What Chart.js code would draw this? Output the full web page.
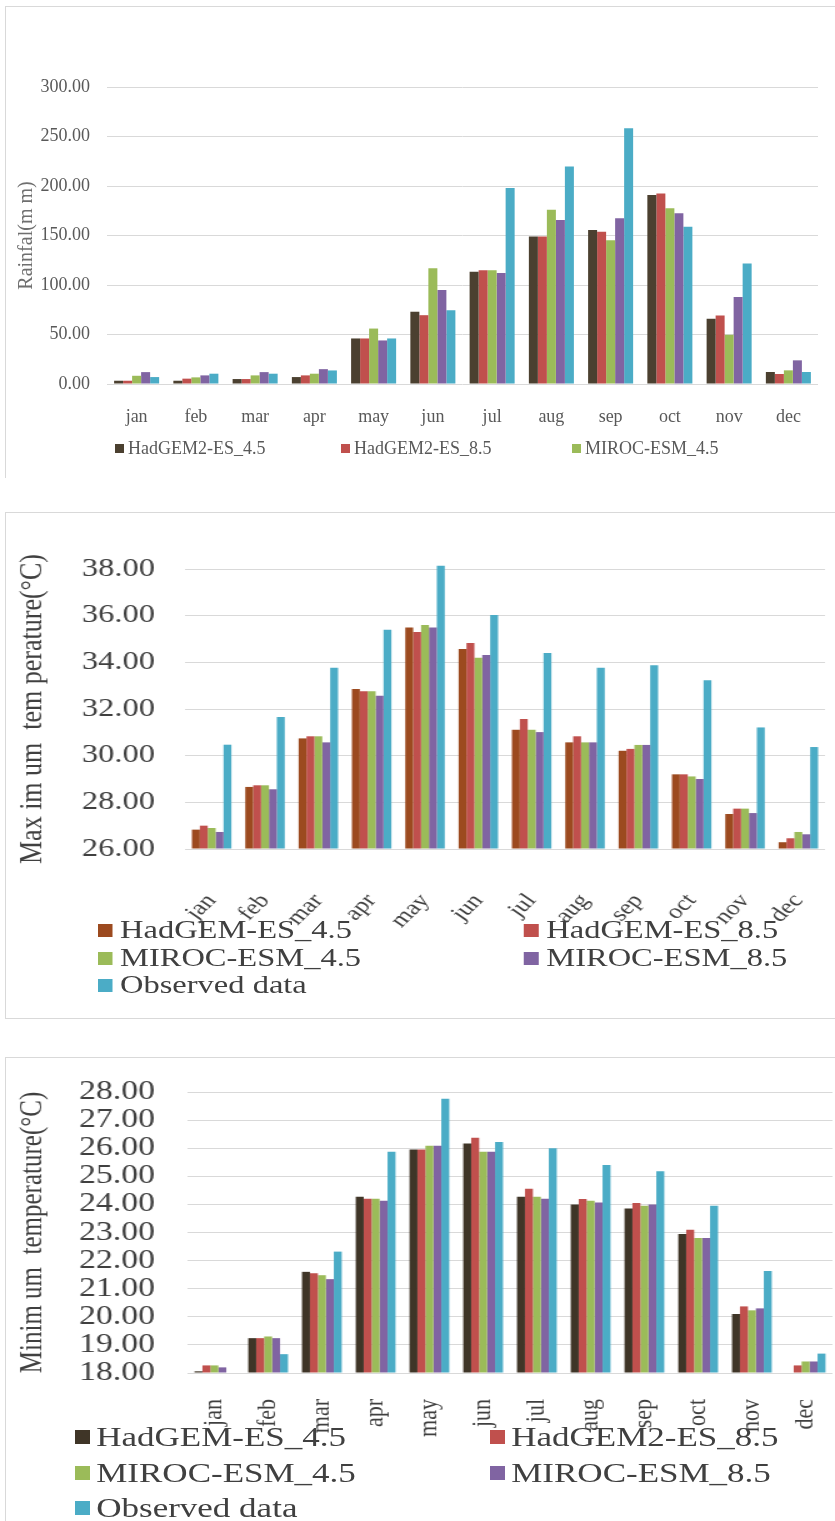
<!DOCTYPE html>
<html>
<head>
<meta charset="utf-8">
<script src="https://cdn.jsdelivr.net/npm/chart.js@4.4.1/dist/chart.umd.min.js"></script>
<style>
  html, body { margin: 0; padding: 0; background: #fff; }
  body { width: 835px; height: 1521px; position: relative; overflow: hidden;
         font-family: 'Liberation Serif', 'Times New Roman', serif; }
  .panel { position: absolute; border: 1.5px solid #d9d9d9; box-sizing: border-box; }
  .wrap { position: absolute; left: 0; }
  .wrap canvas { position: absolute; left: 0; top: 0; }
  .stretch { transform: scaleX(1.25); transform-origin: 0 0; }
  .leg { position: absolute; display: flex; align-items: center; white-space: nowrap; }
  .leg i { display: inline-block; flex: none; }
</style>
</head>
<body>
<div class="panel" style="left:5px;top:6px;width:840px;height:472px;border-right:none;border-bottom:none;"></div>
<div class="panel" style="left:5px;top:512px;width:840px;height:507px;border-right:none;"></div>
<div class="panel" style="left:5px;top:1057px;width:840px;height:480px;border-right:none;border-bottom:none;"></div>

<div class="wrap" id="w1" style="top:0;width:835px;height:480px;">
  <canvas id="rain" width="835" height="480"></canvas>
</div>
<div class="wrap stretch" id="w2" style="top:500px;width:668px;height:520px;">
  <canvas id="tmax" width="668" height="520"></canvas>
</div>
<div class="wrap stretch" id="w3" style="top:1030px;width:668px;height:491px;">
  <canvas id="tmin" width="668" height="491"></canvas>
</div>

<script>
// ─── Data ─────────────────────────────────────────────────────────
const months = ['jan', 'feb', 'mar', 'apr', 'may', 'jun', 'jul', 'aug', 'sep', 'oct', 'nov', 'dec'];

// Rainfall (mm)
const rainTicks = [0, 50, 100, 150, 200, 250, 300];
const rainHad45   = [3.3, 3.3, 5.0, 7.0, 46.0, 73.0, 113.5, 149.0, 155.6, 190.9, 65.9, 12.1];
const rainHad85   = [3.3, 5.4, 5.0, 8.7, 46.0, 69.5, 115.0, 149.0, 153.9, 192.5, 69.2, 10.1];
const rainMiroc45 = [8.3, 6.7, 8.7, 10.4, 56.0, 117.0, 115.0, 176.0, 145.2, 177.4, 49.7, 13.8];
const rainMiroc85 = [12.0, 8.7, 12.0, 15.0, 44.0, 95.0, 112.0, 165.7, 167.3, 172.4, 88.0, 23.9];
const rainObs     = [7.0, 10.4, 10.4, 13.7, 46.0, 74.5, 198.0, 219.8, 258.4, 158.9, 121.6, 12.1];
const rainNames   = ['HadGEM2-ES_4.5', 'HadGEM2-ES_8.5', 'MIROC-ESM_4.5', 'MIROC-ESM_8.5', 'Observed data'];

// Maximum temperature (°C)
const tmaxTicks = [26, 28, 30, 32, 34, 36, 38];
const tmaxHad45   = [26.83, 28.66, 30.74, 32.86, 35.49, 34.57, 31.11, 30.57, 30.21, 29.20, 27.50, 26.29];
const tmaxHad85   = [27.00, 28.73, 30.83, 32.76, 35.30, 34.83, 31.57, 30.83, 30.29, 29.20, 27.73, 26.46];
const tmaxMiroc45 = [26.90, 28.73, 30.83, 32.76, 35.60, 34.20, 31.11, 30.57, 30.46, 29.11, 27.73, 26.73];
const tmaxMiroc85 = [26.73, 28.56, 30.57, 32.57, 35.49, 34.31, 31.01, 30.57, 30.46, 29.00, 27.54, 26.63];
const tmaxObs     = [30.47, 31.66, 33.77, 35.40, 38.14, 36.03, 34.40, 33.77, 33.87, 33.23, 31.21, 30.37];
const tmaxNames   = ['HadGEM-ES_4.5', 'HadGEM-ES_8.5', 'MIROC-ESM_4.5', 'MIROC-ESM_8.5', 'Observed data'];

// Minimum temperature (°C)
const tminTicks = [18, 19, 20, 21, 22, 23, 24, 25, 26, 27, 28];
const tminHad45   = [18.06, 19.24, 21.60, 24.27, 25.95, 26.17, 24.27, 24.00, 23.85, 22.95, 20.10, 17.90];
const tminHad85   = [18.27, 19.24, 21.55, 24.20, 25.95, 26.37, 24.56, 24.19, 24.05, 23.10, 20.37, 18.27];
const tminMiroc45 = [18.27, 19.30, 21.48, 24.20, 26.09, 25.87, 24.27, 24.13, 23.95, 22.80, 20.23, 18.41];
const tminMiroc85 = [18.20, 19.24, 21.34, 24.13, 26.09, 25.87, 24.20, 24.07, 24.00, 22.80, 20.30, 18.41];
const tminObs     = [17.80, 18.67, 22.32, 25.87, 27.76, 26.22, 26.00, 25.40, 25.18, 23.95, 21.63, 18.69];
const tminNames   = ['HadGEM-ES_4.5', 'HadGEM2-ES_8.5', 'MIROC-ESM_4.5', 'MIROC-ESM_8.5', 'Observed data'];

// ─── Colours ──────────────────────────────────────────────────────
const rainColors = ['#4b4030', '#c0504d', '#9bbb59', '#8064a2', '#4bacc6'];
const tmaxColors = ['#9c4a1f', '#c0504d', '#9bbb59', '#8064a2', '#4bacc6'];
const tminColors = ['#3f3527', '#c0504d', '#9bbb59', '#8064a2', '#4bacc6'];

const SERIF = "'Liberation Serif', 'Times New Roman', serif";

// ─── Chart builder ────────────────────────────────────────────────
function makeChart(id, c) {
    const step = c.ticks[1] - c.ticks[0];
    return new Chart(document.getElementById(id), {
        type: 'bar',
        data: {
            labels: months,
            datasets: c.series.map((d, i) => ({
                label: c.names[i],
                data: d,
                backgroundColor: c.colors[i],
                borderWidth: 0,
                barPercentage: 1,
                categoryPercentage: c.catPct,
                base: c.ticks[0],          // bars rise from the axis minimum, not from 0
                clip: c.clip,
            })),
        },
        options: {
            responsive: false,
            animation: false,
            layout: { padding: c.padding },
            plugins: { legend: { display: false }, tooltip: { enabled: false } },
            scales: {
                x: {
                    grid: { display: false, drawTicks: false },
                    border: { display: false },
                    ticks: {
                        color: c.textColor,
                        font: { family: SERIF, size: c.xFont },
                        padding: c.xPad,
                        minRotation: c.rot,
                        maxRotation: c.rot,
                        autoSkip: false,
                    },
                    // rotated labels would otherwise push the plot in from the sides
                    afterFit: (s) => { s.height = c.xHeight; s.paddingLeft = 0; s.paddingRight = 0; },
                },
                y: {
                    min: c.ticks[0],
                    max: c.ticks[c.ticks.length - 1],
                    grid: { color: '#d9d9d9', lineWidth: 1, drawTicks: false },
                    border: { display: false },
                    ticks: {
                        stepSize: step,
                        autoSkip: false,
                        color: c.textColor,
                        font: { family: SERIF, size: c.yFont },
                        padding: c.yPad,
                        callback: (v) => v.toFixed(2),
                    },
                    title: {
                        display: true,
                        text: c.title,
                        color: c.titleColor,
                        font: { family: SERIF, size: c.titleFont },
                        padding: { top: c.titlePad, bottom: 0 },
                    },
                    afterFit: (s) => { s.width = c.yWidth; },
                },
            },
        },
    });
}

// ─── HTML legend ──────────────────────────────────────────────────
function addLegend(parentId, names, colors, spots, st) {
    const parent = document.getElementById(parentId);
    spots.forEach((p, i) => {
        const d = document.createElement('div');
        d.className = 'leg';
        d.style.left = p[0] + 'px';
        d.style.top = (p[1] - st.lh / 2) + 'px';
        d.style.height = st.lh + 'px';
        d.style.fontSize = st.font + 'px';
        d.style.color = st.color;
        d.innerHTML = '<i style="width:' + st.bw + 'px;height:' + st.bh + 'px;background:' + colors[i] +
            ';margin-right:' + st.gap + 'px"></i><span>' + names[i] + '</span>';
        parent.appendChild(d);
    });
}

makeChart('rain', {
    series: [rainHad45, rainHad85, rainMiroc45, rainMiroc85, rainObs],
    names: rainNames, colors: rainColors, ticks: rainTicks,
    catPct: 0.76, clip: undefined,
    padding: { top: 87, right: 17, left: 0, bottom: 0 },
    xHeight: 96, yWidth: 107,
    xFont: 18, xPad: 22, rot: 0,
    yFont: 18, yPad: 17,
    textColor: '#595959', titleColor: '#6f6f6f',
    title: 'Rainfal(m m)', titleFont: 20, titlePad: 15,
});
// only the first legend row is visible in the cropped panel
addLegend('w1', rainNames.slice(0, 3), rainColors, [[115, 448], [341, 448], [572, 448]],
    { font: 18, lh: 20, bw: 9, bh: 9, gap: 4, color: '#595959' });

makeChart('tmax', {
    series: [tmaxHad45, tmaxHad85, tmaxMiroc45, tmaxMiroc85, tmaxObs],
    names: tmaxNames, colors: tmaxColors, ticks: tmaxTicks,
    catPct: 0.74, clip: false,
    padding: { top: 69, right: 8, left: 0, bottom: 0 },
    xHeight: 171, yWidth: 148,
    xFont: 21, xPad: 40, rot: 50,
    yFont: 26, yPad: 24,
    textColor: '#404040', titleColor: '#404040',
    title: 'Max im um  tem perature(°C)', titleFont: 26, titlePad: 11,
});
addLegend('w2', tmaxNames, tmaxColors, [[78, 430], [419, 430], [78, 458], [419, 458], [78, 485]],
    { font: 26, lh: 27, bw: 12, bh: 13, gap: 6, color: '#404040' });

makeChart('tmin', {
    series: [tminHad45, tminHad85, tminMiroc45, tminMiroc85, tminObs],
    names: tminNames, colors: tminColors, ticks: tminTicks,
    catPct: 0.74, clip: undefined,
    padding: { top: 62, right: 2, left: 0, bottom: 0 },
    xHeight: 148, yWidth: 150,
    xFont: 22, xPad: 26, rot: 90,
    yFont: 27, yPad: 26,
    textColor: '#404040', titleColor: '#404040',
    title: 'Minim um  temperature(°C)', titleFont: 25, titlePad: 11,
});
addLegend('w3', tminNames, tminColors, [[60, 407], [392, 407], [60, 443], [392, 443], [60, 478]],
    { font: 28, lh: 30, bw: 12, bh: 14, gap: 5, color: '#404040' });
</script>
</body>
</html>
